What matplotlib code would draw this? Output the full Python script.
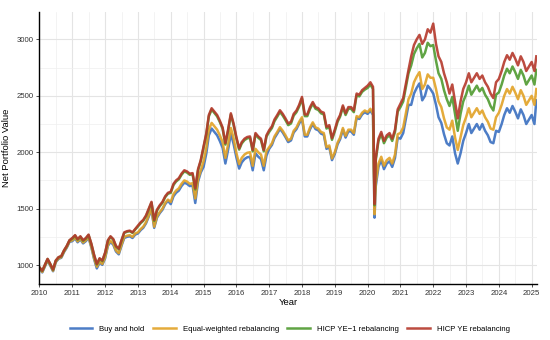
import numpy as np
import pandas as pd
import matplotlib
matplotlib.use("Agg")
import matplotlib.pyplot as plt
from matplotlib.ticker import MultipleLocator

plt.rcParams["font.family"] = ["Liberation Sans", "DejaVu Sans"]

# monthly observations, plus the March 2020 low and the last value
dates = pd.DatetimeIndex(
    list(pd.date_range("2010-01-01", "2020-03-01", freq="MS"))
    + [pd.Timestamp("2020-03-18")]
    + list(pd.date_range("2020-04-01", "2025-02-01", freq="MS"))
    + [pd.Timestamp("2025-02-22")]
)

hicp_ye = [
    980, 950, 1000, 1055, 1010, 960, 1040, 1070, 1080, 1130, 1170, 1220,
    1240, 1265, 1230, 1255, 1220, 1240, 1270, 1190, 1090, 1010, 1060, 1040,
    1110, 1220, 1255, 1230, 1170, 1145, 1220, 1290, 1300, 1305, 1290, 1320,
    1350, 1380, 1400, 1440, 1500, 1560, 1400, 1490, 1530, 1560, 1610, 1640,
    1650, 1720, 1750, 1770, 1810, 1840, 1830, 1810, 1815, 1680, 1850, 1930,
    2050, 2170, 2330, 2390, 2360, 2330, 2280, 2220, 2080, 2200, 2345, 2255,
    2135, 2035, 2090, 2120, 2135, 2140, 2020, 2170, 2140, 2120, 2020, 2150,
    2195, 2230, 2290, 2330, 2372, 2340, 2300, 2255, 2270, 2340, 2370, 2420,
    2490, 2335, 2335, 2400, 2445, 2400, 2390, 2360, 2350, 2225, 2240, 2125,
    2200, 2285, 2330, 2415, 2345, 2400, 2400, 2370, 2520, 2510, 2550, 2570,
    2590, 2620, 2580, 1540, 1950, 2120, 2180, 2100, 2150, 2170, 2120, 2200, 2380,
    2430, 2480, 2600, 2730, 2850, 2950, 3000, 3040, 2960, 3000, 3090, 3060,
    3140, 2960, 2850, 2800, 2700, 2620, 2520, 2600, 2450, 2300, 2450, 2560,
    2620, 2700, 2620, 2660, 2700, 2650, 2680, 2620, 2580, 2520, 2480, 2620,
    2650, 2720, 2800, 2860, 2820, 2880, 2830, 2770, 2850, 2800, 2720, 2760,
    2800, 2720, 2850,
]

hicp_ye1 = [
    978, 948, 998, 1053, 1008, 958, 1038, 1068, 1078, 1128, 1168, 1218,
    1235, 1260, 1225, 1250, 1215, 1235, 1265, 1185, 1085, 1005, 1055, 1035,
    1105, 1215, 1250, 1225, 1165, 1140, 1215, 1285, 1295, 1300, 1285, 1315,
    1342, 1372, 1392, 1432, 1492, 1552, 1392, 1482, 1522, 1552, 1602, 1632,
    1640, 1710, 1740, 1760, 1800, 1830, 1820, 1800, 1805, 1670, 1840, 1920,
    2038, 2158, 2318, 2378, 2348, 2318, 2268, 2208, 2068, 2188, 2333, 2243,
    2123, 2023, 2078, 2108, 2123, 2128, 2008, 2158, 2128, 2108, 2008, 2138,
    2180, 2215, 2275, 2315, 2357, 2325, 2285, 2240, 2255, 2325, 2355, 2405,
    2475, 2320, 2320, 2385, 2430, 2385, 2375, 2345, 2335, 2210, 2225, 2110,
    2185, 2270, 2315, 2400, 2330, 2385, 2385, 2355, 2505, 2495, 2535, 2555,
    2570, 2600, 2560, 1530, 1930, 2100, 2160, 2080, 2130, 2150, 2100, 2180, 2360,
    2400, 2450, 2570, 2700, 2770, 2870, 2920, 2960, 2840, 2880, 2970, 2940,
    2950, 2810, 2700, 2650, 2550, 2470, 2410, 2490, 2340, 2190, 2340, 2450,
    2510, 2590, 2510, 2550, 2590, 2540, 2570, 2510, 2470, 2410, 2370, 2510,
    2530, 2600, 2680, 2740, 2700, 2760, 2710, 2650, 2730, 2680, 2600, 2640,
    2680, 2600, 2730,
]

equal_weighted = [
    970, 940, 990, 1045, 1000, 950, 1030, 1060, 1070, 1120, 1160, 1210,
    1220, 1245, 1210, 1235, 1200, 1220, 1250, 1165, 1060, 985, 1030, 1010,
    1070, 1180, 1215, 1190, 1130, 1105, 1180, 1250, 1260, 1265, 1250, 1280,
    1290, 1320, 1340, 1380, 1440, 1500, 1340, 1430, 1470, 1500, 1550, 1580,
    1560, 1630, 1660, 1680, 1720, 1750, 1740, 1720, 1725, 1590, 1760, 1840,
    1920, 2040, 2200, 2260, 2230, 2200, 2150, 2090, 1950, 2070, 2215, 2125,
    1995, 1895, 1950, 1980, 1995, 2000, 1880, 2030, 2000, 1980, 1880, 2010,
    2045, 2080, 2140, 2180, 2222, 2190, 2150, 2105, 2120, 2190, 2220, 2270,
    2310, 2155, 2155, 2220, 2265, 2220, 2210, 2180, 2170, 2045, 2060, 1945,
    2000, 2085, 2130, 2215, 2145, 2200, 2200, 2170, 2320, 2310, 2350, 2370,
    2355, 2385, 2345, 1450, 1730, 1900, 1960, 1880, 1930, 1950, 1900, 1980, 2160,
    2170, 2220, 2340, 2470, 2520, 2620, 2670, 2710, 2560, 2600, 2690, 2660,
    2660, 2560, 2450, 2400, 2300, 2220, 2200, 2280, 2130, 2020, 2130, 2240,
    2310, 2390, 2310, 2350, 2390, 2340, 2370, 2310, 2270, 2210, 2200, 2310,
    2350, 2420, 2500, 2560, 2520, 2580, 2530, 2470, 2550, 2500, 2420, 2460,
    2500, 2420, 2560,
]

buy_and_hold = [
    965, 935, 985, 1040, 995, 945, 1025, 1055, 1065, 1115, 1155, 1205,
    1212, 1237, 1202, 1227, 1192, 1212, 1242, 1157, 1052, 970, 1022, 1002,
    1060, 1170, 1205, 1180, 1120, 1095, 1170, 1240, 1250, 1255, 1240, 1270,
    1280, 1310, 1330, 1370, 1430, 1490, 1330, 1420, 1460, 1490, 1540, 1570,
    1540, 1610, 1640, 1660, 1700, 1730, 1720, 1700, 1705, 1550, 1740, 1820,
    1870, 1990, 2150, 2210, 2180, 2150, 2100, 2040, 1900, 2020, 2165, 2075,
    1955, 1855, 1910, 1940, 1955, 1960, 1840, 1990, 1960, 1940, 1840, 1970,
    2030, 2065, 2125, 2165, 2207, 2175, 2135, 2090, 2105, 2175, 2205, 2255,
    2295, 2140, 2140, 2205, 2250, 2205, 2195, 2165, 2155, 2030, 2045, 1930,
    1985, 2070, 2115, 2200, 2130, 2185, 2185, 2155, 2305, 2295, 2335, 2355,
    2340, 2370, 2330, 1420, 1700, 1870, 1930, 1850, 1900, 1920, 1870, 1950, 2130,
    2120, 2170, 2290, 2420, 2420, 2520, 2570, 2610, 2460, 2500, 2590, 2560,
    2520, 2420, 2310, 2260, 2160, 2080, 2060, 2140, 1990, 1900, 1990, 2100,
    2170, 2250, 2170, 2210, 2250, 2200, 2250, 2190, 2150, 2090, 2080, 2190,
    2180, 2250, 2330, 2390, 2350, 2410, 2360, 2300, 2380, 2330, 2250, 2290,
    2330, 2250, 2460,
]

series = [
    ("Buy and hold", buy_and_hold, "#3a6fc0"),
    ("Equal-weighted rebalancing", equal_weighted, "#e2a226"),
    ("HICP YE\u22121 rebalancing", hicp_ye1, "#4f9a2f"),
    ("HICP YE rebalancing", hicp_ye, "#b5382b"),
]

years = dates.year + (dates.dayofyear - 1) / 365.25

fig = plt.figure(figsize=(5.5, 3.4), dpi=100)
ax = fig.add_axes([0.0718, 0.1647, 0.905, 0.801])

for name, vals, col in series:
    ax.plot(years, vals, color=col, lw=1.8, alpha=0.9, label=name,
            solid_joinstyle="round")

ax.set_xlim(2010, 2025.17)
ax.set_ylim(832, 3246)
ax.xaxis.set_major_locator(MultipleLocator(1))
ax.xaxis.set_minor_locator(MultipleLocator(0.5))
ax.yaxis.set_major_locator(MultipleLocator(500))
ax.yaxis.set_minor_locator(MultipleLocator(250))
ax.grid(which="major", color="#e4e4e4", lw=0.8)
ax.grid(which="minor", color="#efefef", lw=0.5)
ax.set_axisbelow(True)

for s in ["top", "right"]:
    ax.spines[s].set_visible(False)
for s in ["left", "bottom"]:
    ax.spines[s].set_color("black")
    ax.spines[s].set_linewidth(1.0)

ax.tick_params(which="major", length=2, width=0.6, color="#333333",
               labelsize=5.6, labelcolor="#333333", pad=2)
ax.tick_params(which="minor", length=0)

ax.set_xlabel("Year", fontsize=6.8, labelpad=1)
ax.set_ylabel("Net Portfolio Value", fontsize=6.8, labelpad=4)

fig.legend(loc="center", bbox_to_anchor=(0.527, 0.032), ncol=4,
           frameon=False, fontsize=5.6, handlelength=2.9, handletextpad=0.9,
           columnspacing=1.1)

fig.savefig("out.png", dpi=100)
